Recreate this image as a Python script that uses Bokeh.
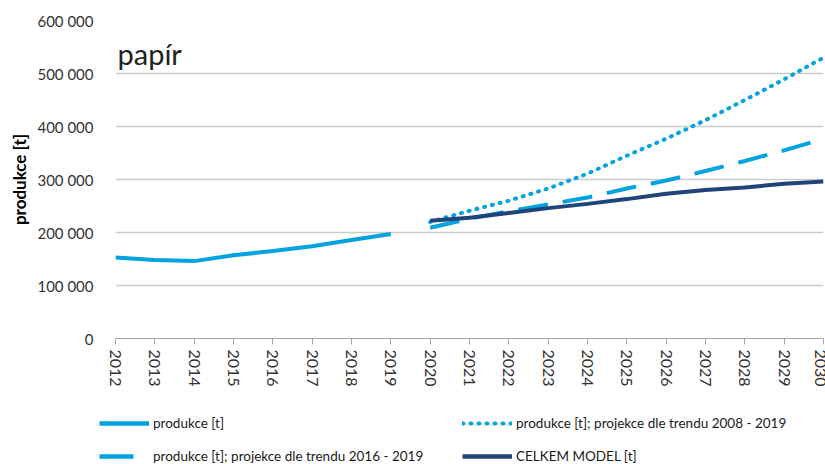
from bokeh.plotting import figure
from bokeh.models import (Range1d, FixedTicker, CustomJSTickFormatter, Label,
                          Legend, LegendItem)
from bokeh.embed import file_html
from bokeh.resources import INLINE

years_hist = [2012, 2013, 2014, 2015, 2016, 2017, 2018, 2019]
prod_hist = [153000, 148000, 146000, 157000, 165000, 174000, 186000, 197000]

years_proj = [2020, 2021, 2022, 2023, 2024, 2025, 2026, 2027, 2028, 2029, 2030]
trend_2008_2019 = [220000, 241000, 260000, 283000, 311000, 345000, 377000, 412000, 450000, 489000, 530000]
trend_2016_2019 = [209000, 226000, 240000, 253000, 266000, 283000, 298000, 316000, 335000, 355000, 377000]
celkem_model = [222000, 228000, 237000, 246000, 254000, 263000, 273000, 280000, 285000, 292000, 296000]

x_ticks = list(range(2012, 2031))
y_ticks = [0, 100000, 200000, 300000, 400000, 500000, 600000]

LIGHT = "#00A3E0"
DARK = "#1F4479"
FONT = "Lato"

p = figure(width=825, height=390, output_backend="svg", toolbar_location=None,
           x_range=Range1d(2012, 2030), y_range=Range1d(0, 600000),
           min_border_left=115, min_border_right=2, min_border_top=20,
           min_border_bottom=52)
p.outline_line_color = None
p.xgrid.grid_line_color = None
p.ygrid.grid_line_color = "#CCCCCC"
p.ygrid.grid_line_width = 1.3

p.xaxis.ticker = FixedTicker(ticks=x_ticks)
p.xaxis.major_label_orientation = "vertical"
p.xaxis.axis_line_color = "#A6A6A6"
p.xaxis.major_tick_line_color = "#A6A6A6"
p.xaxis.major_tick_out = 6
p.xaxis.major_tick_in = 0
p.xaxis.minor_tick_line_color = None
p.xaxis.major_label_text_font = FONT
p.xaxis.major_label_text_font_size = "16px"
p.xaxis.major_label_text_color = "#333333"
p.xaxis.major_label_standoff = 5

p.yaxis.ticker = FixedTicker(ticks=y_ticks)
p.yaxis.formatter = CustomJSTickFormatter(code="return Math.round(tick).toString().replace(/\\B(?=(\\d{3})+(?!\\d))/g, ' ');")
p.yaxis.axis_line_color = None
p.yaxis.major_tick_line_color = None
p.yaxis.minor_tick_line_color = None
p.yaxis.major_label_text_font = FONT
p.yaxis.major_label_text_font_size = "15px"
p.yaxis.major_label_text_color = "#333333"
p.yaxis.major_label_standoff = 16
p.yaxis.axis_label = "produkce [t]"
p.yaxis.axis_label_text_font = FONT
p.yaxis.axis_label_text_font_style = "bold"
p.yaxis.axis_label_text_font_size = "17px"
p.yaxis.axis_label_text_color = "#000000"
p.yaxis.axis_label_standoff = 4

r_hist = p.line(years_hist, prod_hist, line_color=LIGHT, line_width=4)
r_dot = p.line(years_proj, trend_2008_2019, line_color=LIGHT, line_width=4,
               line_dash="1 7", line_cap="round")
r_dash = p.line(years_proj, trend_2016_2019, line_color=LIGHT, line_width=4,
                line_dash="30 15")
r_model = p.line(years_proj, celkem_model, line_color=DARK, line_width=4)

p.add_layout(Label(x=2012.05, y=537000, text="papír", text_font=FONT,
                   text_font_size="29px", text_color="#222222",
                   text_baseline="alphabetic"))

# legend strip below the chart (separate root, so its frame starts at x=0)
q = figure(width=825, height=74, output_backend="svg", toolbar_location=None,
           x_range=Range1d(0, 1), y_range=Range1d(0, 1),
           x_axis_location=None, y_axis_location=None,
           min_border=0, min_border_left=0, min_border_right=0,
           min_border_top=0, min_border_bottom=0)
q.outline_line_color = None
q.grid.grid_line_color = None

hidden_x = [-10, -9]
hidden_y = [-10, -9]
l_hist = q.line(hidden_x, hidden_y, line_color=LIGHT, line_width=4.5)
l_dot = q.line(hidden_x, hidden_y, line_color=LIGHT, line_width=4, line_dash="1 7", line_cap="round")
l_dash = q.line(hidden_x, hidden_y, line_color=LIGHT, line_width=4.5, line_dash="34 20")
l_model = q.line(hidden_x, hidden_y, line_color=DARK, line_width=4.5)

def make_legend(items, x, y):
    lg = Legend(items=items, location=(x, y), orientation="vertical",
                border_line_color=None, background_fill_alpha=0,
                padding=0, margin=0, spacing=17, glyph_width=50,
                glyph_height=14, label_height=14, label_standoff=4,
                label_text_font=FONT, label_text_font_size="13.5px",
                label_text_color="#1a1a1a")
    q.add_layout(lg, "center")
    return lg

make_legend([LegendItem(label="produkce [t]", renderers=[l_hist]),
             LegendItem(label="produkce [t]; projekce dle trendu 2016 - 2019", renderers=[l_dash])],
            99, 0)
make_legend([LegendItem(label="produkce [t]; projekce dle trendu 2008 - 2019", renderers=[l_dot]),
             LegendItem(label="CELKEM MODEL [t]", renderers=[l_model])],
            462, 0)

open("out.html", "w").write(file_html([p, q], INLINE))
